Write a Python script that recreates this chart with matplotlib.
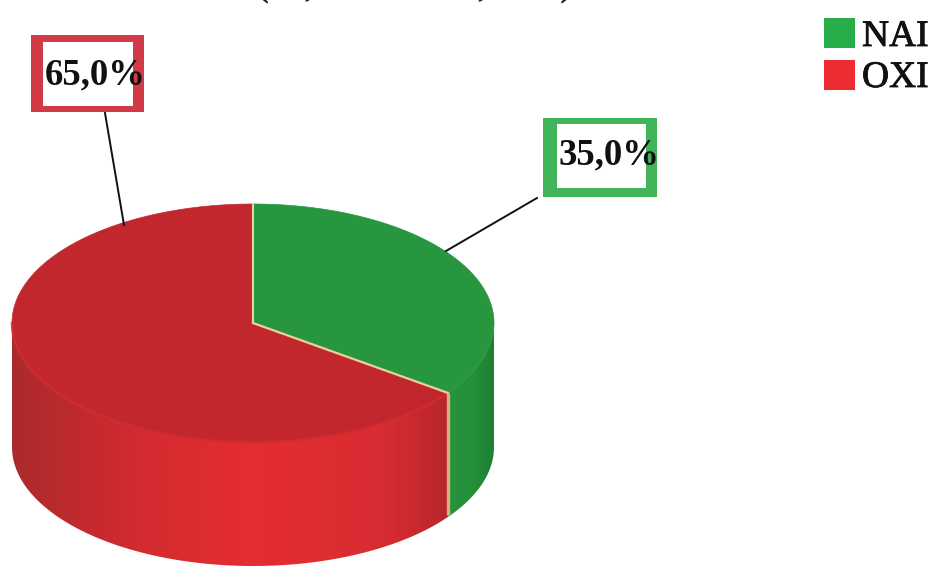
import numpy as np
import matplotlib
matplotlib.use("Agg")
import matplotlib.pyplot as plt
import matplotlib.patheffects as pe
from matplotlib.colors import LinearSegmentedColormap
from matplotlib.patches import Polygon, Rectangle

categories = ["NAI", "OXI"]
values = [35.0, 65.0]
labels = ["35,0%", "65,0%"]
top_colors = ["#27963f", "#c1272d"]
legend_colors = ["#27ae4a", "#ec2b33"]
box_colors = ["#41b45a", "#d23a48"]
title_text = "(%, " + "." * 17 + ", " + "." * 7 + ")"

W, H = 931, 566
cx, cy, rx, ry, depth = 253, 323, 241, 119, 124

plt.rcParams["font.family"] = ["Liberation Serif", "DejaVu Serif"]
fig = plt.figure(figsize=(W / 100, H / 100), dpi=100)
ax = fig.add_axes([0, 0, 1, 1])
ax.set_xlim(0, W)
ax.set_ylim(H, 0)
ax.axis("off")

fractions = np.array(values) / sum(values)
edges = np.concatenate([[0], np.cumsum(fractions)]) * 2 * np.pi


def pt(a):
    return cx + rx * np.sin(a), cy - ry * np.cos(a)


red_cm = LinearSegmentedColormap.from_list(
    "r", [(0, "#a92a2b"), (0.05, "#b32a2c"), (0.3, "#d42b30"), (0.55, "#e52d33"),
          (0.85, "#d82c32"), (1, "#b8272c")], N=1024)
green_cm = LinearSegmentedColormap.from_list(
    "g", [(0, "#26933e"), (0.5, "#259039"), (1, "#1d7f33")], N=1024)

split_a = edges[1]
sx, sy = pt(split_a)
xs_left, xs_right = cx - rx, cx + rx


def wall(a0, a1, cmap, x0, x1):
    t = np.linspace(a0, a1, 300)
    px, py = pt(t)
    poly = Polygon(np.c_[np.r_[px, px[::-1]], np.r_[py, py[::-1] + depth]],
                   closed=True, fc="none", ec="none", transform=ax.transData)
    ax.add_patch(poly)
    grad = np.linspace(0, 1, 512).reshape(1, -1)
    im = ax.imshow(grad, cmap=cmap, extent=(x0, x1, H, 0), aspect="auto", zorder=2,
                   interpolation="bilinear")
    im.set_clip_path(poly)


wall(np.pi / 2, split_a, green_cm, sx, xs_right)
wall(split_a, 3 * np.pi / 2, red_cm, xs_left, sx)
ax.set_xlim(0, W)
ax.set_ylim(H, 0)

# Top faces
for i, col in enumerate(top_colors):
    t = np.linspace(edges[i], edges[i + 1], 200)
    px, py = pt(t)
    ax.fill(np.r_[cx, px], np.r_[cy, py], fc=col, ec=col, lw=0.5, zorder=3)

# Soft rim where the top meets the red wall
t = np.linspace(split_a, 3 * np.pi / 2, 200)
px, py = pt(t)
ax.plot(px, py, color="#d12b30", lw=1.8, alpha=0.8, zorder=3.5)

# Pale seams
ax.plot([cx, cx], [cy, cy - ry], color="#e8d49a", lw=1.5, zorder=4)
ax.plot([cx, sx], [cy, sy], color="#e8d49a", lw=1.6, zorder=4)
ax.plot([sx, sx], [sy, sy + depth - 2], color="#d8b27e", lw=2.4, zorder=4, solid_capstyle="butt")

# Leader lines
ax.plot([446, 537], [251, 198], color="#111111", lw=1.4, zorder=5)
ax.plot([105, 124], [113, 225], color="#111111", lw=1.4, zorder=5)

# Callout boxes
ax.add_patch(Rectangle((543, 118), 114, 79, fc=box_colors[0], ec="none", zorder=5))
ax.add_patch(Rectangle((557, 124), 89, 64, fc="white", ec="none", zorder=5.1))
ax.add_patch(Rectangle((31, 35), 113, 77, fc=box_colors[1], ec="none", zorder=5))
ax.add_patch(Rectangle((43, 42), 90, 64, fc="white", ec="none", zorder=5.1))
ax.text(558, 164, labels[0], fontsize=26.5, fontweight="bold", ha="left", va="baseline",
        color="#111111", zorder=6)
ax.text(45, 84, labels[1], fontsize=26.5, fontweight="bold", ha="left", va="baseline",
        color="#111111", zorder=6)

# Legend
for i, (name, col) in enumerate(zip(categories, legend_colors)):
    y = 18 + i * 42
    ax.add_patch(Rectangle((824, y), 31, 30, fc=col, ec="none", zorder=5))
    ax.text(862, y + 28 - i, name, fontsize=27, ha="left", va="baseline", color="#111111", zorder=6,
            path_effects=[pe.withStroke(linewidth=0.6, foreground="#111111")])

ax.text(257, -5, title_text, fontsize=26, fontweight="bold", ha="left", va="baseline", color="#222222")

fig.savefig("out.png", dpi=100)
